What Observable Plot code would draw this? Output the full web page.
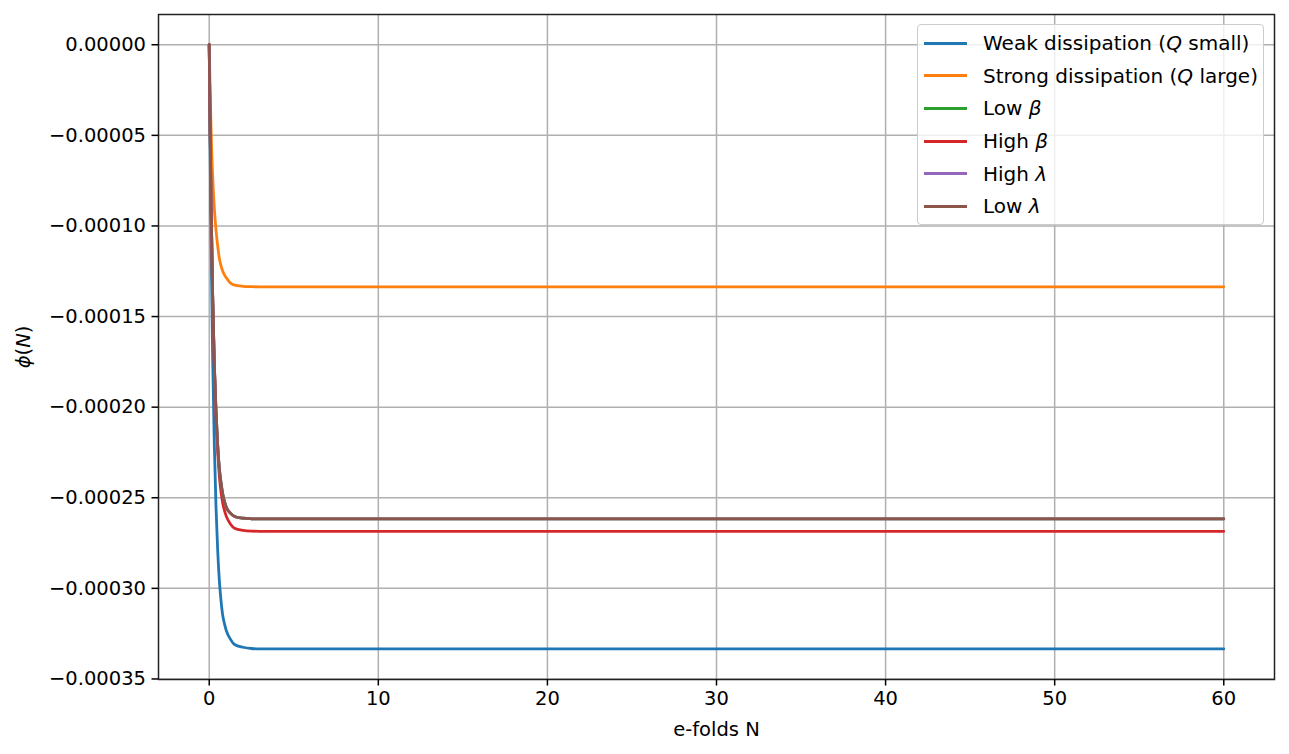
<!DOCTYPE html>
<html>
<head>
<meta charset="utf-8">
<script src="https://cdn.jsdelivr.net/npm/d3@7"></script>
<script src="https://cdn.jsdelivr.net/npm/@observablehq/plot@0.6"></script>
<style>
  html, body { margin: 0; padding: 0; background: white; }
  #wrap { position: relative; width: 1289px; height: 754px; font-family: "DejaVu Sans", sans-serif; }
  #legend {
    position: absolute; left: 917px; top: 24px; width: 345px; height: 197px;
    background: rgba(255,255,255,0.8); border: 1.5px solid #cccccc; border-radius: 4px;
    box-sizing: content-box; padding-top: 2px;
  }
  .row { display: flex; align-items: center; height: 32.6px; font-size: 20px; color: black; white-space: nowrap; }
  .swatch { width: 43px; height: 3px; margin-left: 6px; margin-right: 16px; }
</style>
</head>
<body>
<div id="wrap"><div id="chart"></div><div id="legend"></div></div>
<script>
// e-folds N at which the curves were read
const N = [0, 0.05, 0.1, 0.2, 0.3, 0.4, 0.5, 0.6, 0.7, 0.8, 0.9, 1.0, 1.25, 1.5, 2, 2.5, 3, 5, 10, 20, 30, 40, 50, 60];
// phi(N)
const weakQ      = [0, -0.55e-4, -1.01e-4, -1.71e-4, -2.20e-4, -2.55e-4, -2.79e-4, -2.96e-4, -3.07e-4, -3.15e-4, -3.195e-4, -3.23e-4, -3.28e-4, -3.31e-4, -3.325e-4, -3.332e-4, -3.334e-4, -3.334e-4, -3.334e-4, -3.334e-4, -3.334e-4, -3.334e-4, -3.334e-4, -3.334e-4];
const strongQ    = [0, -0.24e-4, -0.44e-4, -0.72e-4, -0.90e-4, -1.02e-4, -1.11e-4, -1.18e-4, -1.22e-4, -1.25e-4, -1.27e-4, -1.285e-4, -1.315e-4, -1.327e-4, -1.333e-4, -1.335e-4, -1.336e-4, -1.336e-4, -1.336e-4, -1.336e-4, -1.336e-4, -1.336e-4, -1.336e-4, -1.336e-4];
const lowBeta    = [0, -0.44e-4, -0.81e-4, -1.37e-4, -1.76e-4, -2.02e-4, -2.21e-4, -2.34e-4, -2.42e-4, -2.48e-4, -2.52e-4, -2.55e-4, -2.585e-4, -2.603e-4, -2.613e-4, -2.616e-4, -2.617e-4, -2.617e-4, -2.617e-4, -2.617e-4, -2.617e-4, -2.617e-4, -2.617e-4, -2.617e-4];
const highBeta   = [0, -0.44e-4, -0.81e-4, -1.38e-4, -1.77e-4, -2.05e-4, -2.24e-4, -2.38e-4, -2.47e-4, -2.53e-4, -2.57e-4, -2.60e-4, -2.645e-4, -2.668e-4, -2.680e-4, -2.684e-4, -2.685e-4, -2.685e-4, -2.685e-4, -2.685e-4, -2.685e-4, -2.685e-4, -2.685e-4, -2.685e-4];
const highLambda = [0, -0.44e-4, -0.81e-4, -1.37e-4, -1.76e-4, -2.02e-4, -2.21e-4, -2.34e-4, -2.42e-4, -2.48e-4, -2.52e-4, -2.55e-4, -2.585e-4, -2.603e-4, -2.613e-4, -2.616e-4, -2.617e-4, -2.617e-4, -2.617e-4, -2.617e-4, -2.617e-4, -2.617e-4, -2.617e-4, -2.617e-4];
const lowLambda  = [0, -0.44e-4, -0.81e-4, -1.37e-4, -1.76e-4, -2.02e-4, -2.21e-4, -2.34e-4, -2.42e-4, -2.48e-4, -2.52e-4, -2.55e-4, -2.585e-4, -2.603e-4, -2.613e-4, -2.616e-4, -2.617e-4, -2.617e-4, -2.617e-4, -2.617e-4, -2.617e-4, -2.617e-4, -2.617e-4, -2.617e-4];

const seriesLabels = [
  "Weak dissipation (<i>Q</i> small)",
  "Strong dissipation (<i>Q</i> large)",
  "Low <i>β</i>",
  "High <i>β</i>",
  "High <i>λ</i>",
  "Low <i>λ</i>"
];
const seriesValues = [weakQ, strongQ, lowBeta, highBeta, highLambda, lowLambda];
const colors = ["#1f77b4", "#ff7f0e", "#2ca02c", "#d62728", "#9467bd", "#8c564b"];

const xTicks = [0, 10, 20, 30, 40, 50, 60];
const yTicks = [0, -0.00005, -0.0001, -0.00015, -0.0002, -0.00025, -0.0003, -0.00035];

const lineMarks = seriesValues.map((vals, i) =>
  Plot.line(N.map((n, j) => ({N: n, phi: vals[j]})), {
    x: "N", y: "phi", stroke: colors[i], strokeWidth: 2.8, curve: "monotone-x"
  })
);

const chart = Plot.plot({
  width: 1289, height: 754,
  marginLeft: 158, marginRight: 15, marginTop: 14, marginBottom: 75,
  style: {fontFamily: "DejaVu Sans, sans-serif", fontSize: "19.5px", color: "black", background: "white", overflow: "visible"},
  x: {domain: [-3, 63]},
  y: {domain: [-0.0003503, 0.0000167]},
  marks: [
    Plot.gridX(xTicks, {stroke: "#b0b0b0", strokeOpacity: 1, strokeWidth: 1.5}),
    Plot.gridY(yTicks, {stroke: "#b0b0b0", strokeOpacity: 1, strokeWidth: 1.5}),
    ...lineMarks,
    Plot.frame({stroke: "#222", strokeWidth: 1.5}),
    Plot.axisX(xTicks, {tickSize: 6.5, tickPadding: 5, strokeWidth: 1.5, label: "e-folds N", labelAnchor: "center", labelArrow: "none", labelOffset: 56}),
    Plot.axisY(yTicks, {tickSize: 6.5, tickPadding: 6, strokeWidth: 1.5, tickFormat: d3.format(".5f"), label: "ϕ(N)", labelAnchor: "center", labelArrow: "none", labelOffset: 142})
  ]
});
document.getElementById("chart").appendChild(chart);

// italic math in y label
chart.querySelectorAll("text").forEach(t => {
  if (t.textContent === "ϕ(N)") {
    t.innerHTML = '<tspan font-style="italic">ϕ</tspan>(<tspan font-style="italic">N</tspan>)';
  }
});

const legend = document.getElementById("legend");
seriesLabels.forEach((lab, i) => {
  const row = document.createElement("div");
  row.className = "row";
  row.innerHTML = `<div class="swatch" style="background:${colors[i]}"></div><span>${lab}</span>`;
  legend.appendChild(row);
});
</script>
</body>
</html>
